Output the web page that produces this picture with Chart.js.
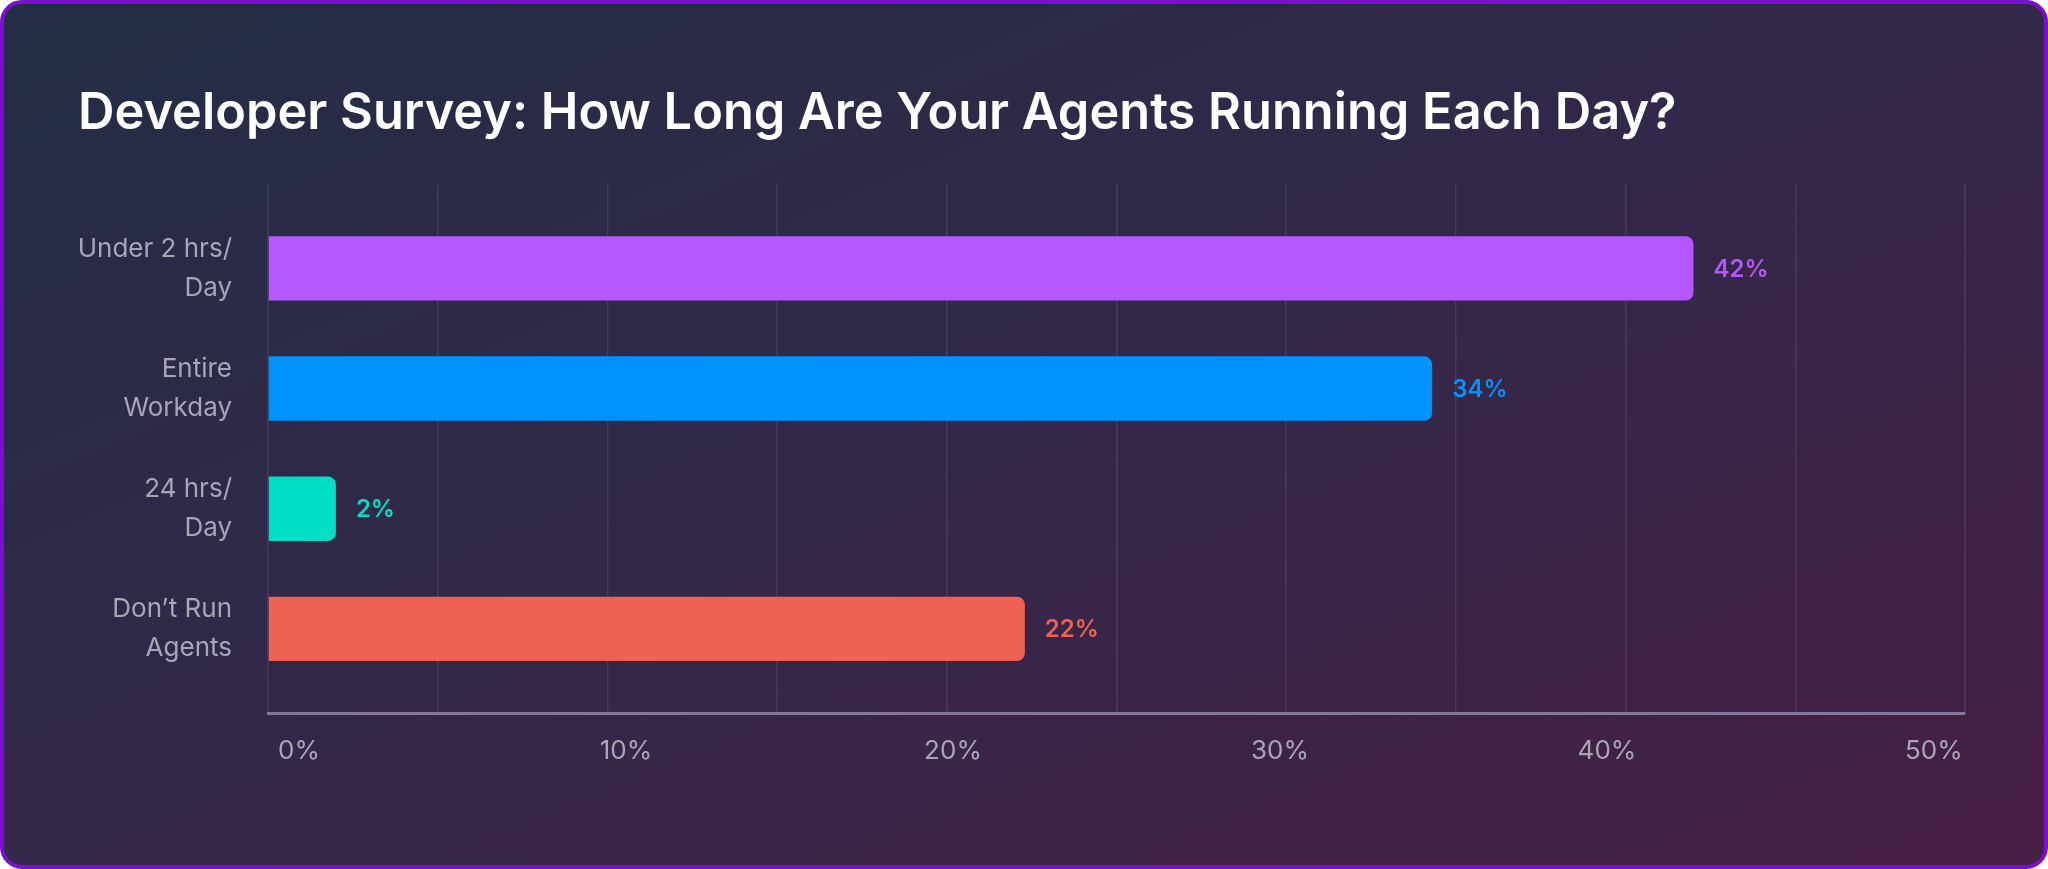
<!DOCTYPE html>
<html>
<head>
<meta charset="utf-8">
<script src="https://cdn.jsdelivr.net/npm/chart.js@4"></script>
<style>
  html, body { margin: 0; padding: 0; background: #ffffff; }
  #wrap { position: relative; width: 2048px; height: 869px; }
  #frame {
    position: absolute; left: 0; top: 0; right: 0; bottom: 0;
    box-sizing: border-box;
    border: 4px solid #7a0fd0;
    border-radius: 22px;
    background: linear-gradient(to bottom right, #232d44 0%, #33284a 50%, #461f42 100%);
  }
  #box { position: absolute; left: 0; top: 0; width: 2048px; height: 869px; }
</style>
</head>
<body>
<div id="wrap">
  <div id="frame"></div>
  <div id="box"><canvas id="chartOfAgents"></canvas></div>
</div>
<script>
'use strict';

// data
let categories = [
  ['Under 2 hrs/', 'Day'],
  ['Entire', 'Workday'],
  ['24 hrs/', 'Day'],
  ['Don\u2019t Run', 'Agents']
];
// bar lengths as drawn in the picture (labels show them rounded)
let percentValues = [42, 34.3, 2, 22.3];
let barColors = ['#b557fe', '#0092ff', '#00dec6', '#ef6152'];
let xTickValues = [0, 10, 20, 30, 40, 50];
let chartTitle = 'Developer Survey: How Long Are Your Agents Running Each Day?';

let ctx = document.getElementById('chartOfAgents');

// bars go on a linear y scale so the rows sit where the picture has them
let barPoints = [];
for (let i = 0; i < percentValues.length; i++) {
  barPoints.push({ x: percentValues[i], y: i });
}

// labels after the end of each bar
let valueLabels = {
  id: 'valueLabels',
  afterDatasetsDraw(chart) {
    let c = chart.ctx;
    let meta = chart.getDatasetMeta(0);
    c.save();
    c.font = '600 24px Inter';
    c.textBaseline = 'middle';
    c.textAlign = 'left';
    meta.data.forEach((bar, i) => {
      c.fillStyle = barColors[i];
      c.fillText(Math.round(percentValues[i]) + '%', bar.x + 20, bar.y + 1);
    });
    c.restore();
  }
};

let chartObject = {
  type: 'bar',
  data: {
    datasets: [{
      data: barPoints,
      backgroundColor: barColors,
      borderRadius: 8,
      barPercentage: 0.536,
      categoryPercentage: 1
    }]
  },
  options: {
    indexAxis: 'y',
    responsive: true,
    maintainAspectRatio: false,
    animation: false,
    layout: {
      padding: { left: 78, right: 83, top: 0, bottom: 80 }
    },
    scales: {
      x: {
        type: 'linear',
        position: 'bottom',
        min: 0,
        max: 50,
        ticks: { display: false, stepSize: 5 },
        grid: { color: 'rgba(255,255,255,0.09)', lineWidth: 1.5, drawTicks: false },
        border: { display: true, color: '#85779a', width: 3 }
      },
      x2: {
        type: 'linear',
        position: 'bottom',
        min: -0.95,
        max: 50.95,
        afterBuildTicks: (scale) => {
          scale.ticks = xTickValues.map(v => ({ value: v }));
        },
        ticks: {
          color: '#a9a5b6',
          font: { family: 'Inter', size: 26 },
          padding: 22,
          maxRotation: 0,
          callback: (v) => v + '%'
        },
        grid: { display: false, drawTicks: false },
        border: { display: false }
      },
      y: {
        type: 'linear',
        reverse: true,
        offset: false,
        min: -0.711,
        max: 3.707,
        afterBuildTicks: (scale) => {
          scale.ticks = categories.map((c, i) => ({ value: i }));
        },
        afterFit: (scale) => {
          scale.width = 190;
        },
        ticks: {
          color: '#a9a5b6',
          font: { family: 'Inter', size: 26, lineHeight: 1.5 },
          padding: 36,
          callback: (v) => categories[v]
        },
        grid: { display: false, drawTicks: false },
        border: { display: false }
      }
    },
    plugins: {
      legend: { display: false },
      tooltip: { enabled: false },
      title: {
        display: true,
        text: chartTitle,
        align: 'start',
        color: '#ffffff',
        font: { family: 'Inter', size: 50.5, weight: '600', lineHeight: 1.2 },
        padding: { top: 84, bottom: 38.4 }
      }
    }
  },
  plugins: [valueLabels]
};

const chartOfAgentRuntime = new Chart(ctx, chartObject);
</script>
</body>
</html>
